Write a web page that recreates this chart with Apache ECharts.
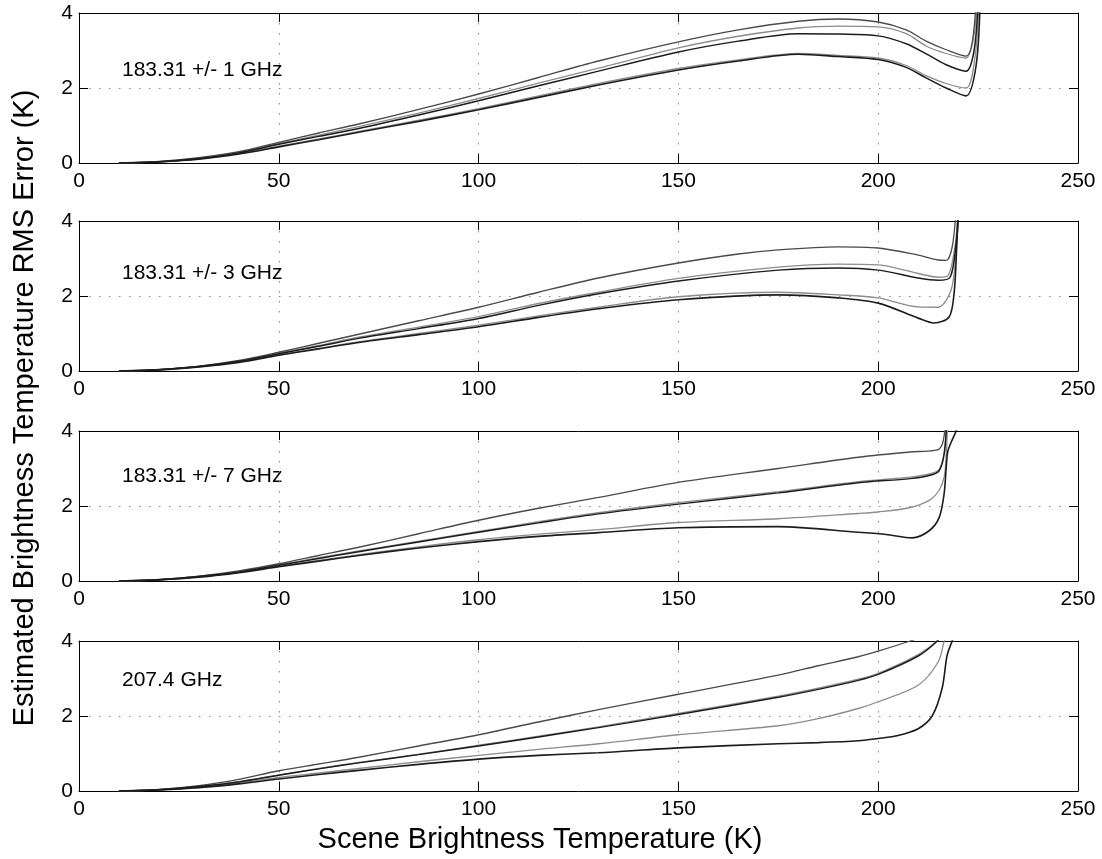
<!DOCTYPE html>
<html>
<head>
<meta charset="utf-8">
<script src="https://cdn.jsdelivr.net/npm/echarts@6/dist/echarts.min.js"></script>
<style>
html,body{margin:0;padding:0;background:#fff;}
#chart{width:1102px;height:859px;}
</style>
</head>
<body>
<div id="chart"></div>
<script>
// ---- Data ----
const xTicks = [0, 50, 100, 150, 200, 250];
const yTicks = [0, 2, 4];
const panelLabels = ['183.31 +/- 1 GHz', '183.31 +/- 3 GHz', '183.31 +/- 7 GHz', '207.4 GHz'];
const xTitle = 'Scene Brightness Temperature (K)';
const yTitle = 'Estimated Brightness Temperature RMS Error (K)';

// Panel 1: 183.31 +/- 1 GHz
const p1A = [[10,0],[20,0.04],[30,0.14],[40,0.3],[50,0.55],[60,0.8],[70,1.04],[85,1.43],[100,1.84],[115,2.28],[130,2.72],[150,3.23],[165,3.55],[180,3.78],[190,3.84],[200,3.76],[207,3.55],[212,3.25],[217,3.02],[222,2.85],[223.5,3.2],[224.5,4.3]];
const p1B = [[10,0],[20,0.035],[30,0.13],[40,0.28],[50,0.52],[60,0.74],[70,0.97],[85,1.33],[100,1.72],[115,2.13],[130,2.53],[150,3.07],[165,3.38],[180,3.6],[190,3.65],[200,3.63],[207,3.45],[212,3.12],[217,2.92],[222,2.8],[223.8,3.3],[224.8,4.3]];
const p1C = [[10,0],[20,0.03],[30,0.12],[40,0.27],[50,0.5],[60,0.71],[70,0.92],[85,1.28],[100,1.66],[115,2.06],[130,2.45],[150,2.96],[165,3.25],[180,3.45],[190,3.44],[200,3.39],[207,3.18],[212,2.91],[217,2.62],[222,2.45],[224,3.0],[225,4.3]];
const p1D = [[10,0],[20,0.03],[30,0.11],[40,0.25],[50,0.45],[60,0.64],[70,0.84],[85,1.14],[100,1.45],[115,1.79],[130,2.12],[150,2.52],[165,2.75],[180,2.92],[190,2.87],[200,2.8],[207,2.6],[212,2.33],[217,2.12],[222,2.0],[224.2,2.8],[225.2,4.3]];
const p1E = [[10,0],[20,0.03],[30,0.1],[40,0.24],[50,0.43],[60,0.62],[70,0.82],[85,1.11],[100,1.42],[115,1.75],[130,2.08],[150,2.48],[165,2.72],[180,2.9],[190,2.84],[200,2.76],[207,2.55],[212,2.27],[217,2.0],[222,1.79],[224.5,2.6],[225.5,4.3]];

// Panel 2: 183.31 +/- 3 GHz
const p2A = [[10,0],[20,0.04],[30,0.13],[40,0.28],[50,0.5],[60,0.74],[70,0.98],[85,1.34],[100,1.7],[115,2.1],[130,2.48],[150,2.88],[165,3.12],[175,3.23],[190,3.31],[200,3.28],[210,3.09],[215,2.96],[217,2.95],[218.5,3.3],[219.5,4.3]];
const p2B = [[10,0],[20,0.035],[30,0.12],[40,0.26],[50,0.47],[60,0.68],[70,0.9],[85,1.17],[100,1.45],[115,1.8],[130,2.1],[150,2.47],[175,2.77],[190,2.85],[200,2.83],[210,2.6],[215,2.5],[217.5,2.55],[219.3,3.4],[220,4.3]];
const p2C = [[10,0],[20,0.035],[30,0.12],[40,0.26],[50,0.46],[60,0.66],[70,0.87],[85,1.13],[100,1.4],[115,1.75],[130,2.06],[150,2.4],[175,2.69],[190,2.75],[200,2.69],[210,2.48],[215,2.42],[218,2.5],[219.5,3.4],[220.2,4.3]];
const p2D = [[10,0],[20,0.03],[30,0.11],[40,0.24],[50,0.43],[60,0.6],[70,0.78],[85,1.0],[100,1.22],[115,1.47],[130,1.7],[150,1.98],[175,2.1],[190,2.03],[200,1.95],[210,1.71],[215,1.7],[218.25,2.16],[219.5,3.2],[220.2,4.3]];
const p2E = [[10,0],[20,0.03],[30,0.11],[40,0.23],[50,0.42],[60,0.59],[70,0.76],[85,0.97],[100,1.18],[115,1.43],[130,1.66],[150,1.9],[175,2.03],[190,1.95],[200,1.81],[210,1.41],[214,1.28],[217.75,1.44],[219,2.08],[219.6,3.2],[220,4.3]];

// Panel 3: 183.31 +/- 7 GHz
const p3A = [[10,0],[20,0.04],[30,0.13],[40,0.27],[50,0.46],[60,0.68],[70,0.9],[85,1.26],[100,1.62],[115,1.94],[130,2.23],[150,2.63],[175,3.0],[195,3.3],[208,3.44],[213,3.47],[215.25,3.52],[216.3,3.75],[216.9,4.3]];
const p3B = [[10,0],[20,0.035],[30,0.12],[40,0.25],[50,0.43],[60,0.62],[70,0.8],[85,1.06],[100,1.32],[115,1.58],[130,1.82],[150,2.09],[175,2.38],[195,2.65],[208,2.77],[213,2.86],[215.25,2.98],[216.5,3.42],[217.2,4.3]];
const p3C = [[10,0],[20,0.035],[30,0.12],[40,0.24],[50,0.42],[60,0.6],[70,0.78],[85,1.04],[100,1.3],[115,1.55],[130,1.79],[150,2.05],[175,2.35],[195,2.62],[208,2.73],[213,2.82],[215.25,2.94],[216.5,3.38],[217.2,4.3]];
const p3D = [[10,0],[20,0.03],[30,0.11],[40,0.23],[50,0.4],[60,0.55],[70,0.7],[85,0.91],[100,1.1],[115,1.25],[130,1.37],[150,1.56],[175,1.66],[195,1.8],[200,1.84],[208,1.96],[212.75,2.15],[215.25,2.42],[216.5,2.77],[217,3.3],[217.4,4.3]];
const p3E = [[10,0],[20,0.03],[30,0.1],[40,0.22],[50,0.38],[60,0.53],[70,0.68],[85,0.88],[100,1.05],[115,1.19],[130,1.29],[150,1.42],[175,1.45],[195,1.3],[202,1.24],[208.5,1.15],[212.75,1.34],[215.25,1.69],[216.5,2.33],[217,3.0],[217.4,3.45],[218.25,3.7],[219.5,4.0],[220.2,4.3]];

// Panel 4: 207.4 GHz
const p4A = [[10,0],[20,0.04],[30,0.14],[40,0.31],[50,0.54],[60,0.72],[70,0.9],[85,1.2],[100,1.5],[115,1.84],[130,2.17],[150,2.58],[175,3.09],[185,3.34],[195,3.58],[200,3.73],[208,4.0],[212,4.15]];
const p4B = [[10,0],[20,0.035],[30,0.12],[40,0.25],[50,0.43],[60,0.6],[70,0.76],[85,0.98],[100,1.22],[115,1.46],[130,1.71],[150,2.07],[175,2.53],[185,2.74],[195,2.98],[200,3.14],[210,3.64],[214.7,4.0],[216,4.2]];
const p4C = [[10,0],[20,0.035],[30,0.12],[40,0.24],[50,0.42],[60,0.59],[70,0.75],[85,0.97],[100,1.2],[115,1.44],[130,1.69],[150,2.04],[175,2.5],[185,2.71],[195,2.95],[200,3.11],[210,3.6],[214.8,4.0],[216,4.2]];
const p4D = [[10,0],[20,0.03],[30,0.1],[40,0.21],[50,0.36],[60,0.48],[70,0.6],[85,0.78],[100,0.95],[115,1.11],[130,1.26],[150,1.5],[175,1.74],[185,1.93],[195,2.2],[200,2.38],[210,2.82],[215,3.44],[216.5,4.0],[217,4.2]];
const p4E = [[10,0],[20,0.03],[30,0.09],[40,0.19],[50,0.32],[60,0.44],[70,0.55],[85,0.71],[100,0.85],[115,0.95],[130,1.02],[150,1.15],[175,1.26],[185,1.29],[195,1.34],[200,1.4],[205,1.48],[210,1.66],[213.5,2.0],[216,2.74],[217.25,3.62],[218.5,4.0],[219,4.2]];

const panels = [
  [p1A, p1B, p1C, p1D, p1E],
  [p2A, p2B, p2C, p2D, p2E],
  [p3A, p3B, p3C, p3D, p3E],
  [p4A, p4B, p4C, p4D, p4E]
];

// ---- Styles / layout ----
const FONT = 'Liberation Sans, Arial, Helvetica, sans-serif';
const curveColors = ['#4a4a4a', '#8c8c8c', '#1c1c1c', '#8c8c8c', '#1c1c1c'];
const curveWidths = [1.3, 1.3, 1.5, 1.3, 1.6];
const gridTops = [13, 221, 431, 641];
const gridH = 150;
const labelY = [70, 273, 476, 680];

const grids = [], xAxes = [], yAxes = [], series = [], graphics = [];
gridTops.forEach((top, i) => {
  grids.push({left: 79, width: 999, top: top, height: gridH, show: false, containLabel: false});
  const baseX = {
    gridIndex: i, type: 'value', min: xTicks[0], max: xTicks[xTicks.length - 1], interval: 50,
    axisLine: {show: true, onZero: false, lineStyle: {color: '#000', width: 1}},
    axisTick: {show: true, inside: true, length: 9, lineStyle: {color: '#000', width: 1}}
  };
  xAxes.push(Object.assign({}, baseX, {
    position: 'bottom',
    axisLabel: {show: true, color: '#000', fontSize: 21, fontFamily: FONT, margin: 8},
    splitLine: {show: true, lineStyle: {color: '#8a8a8a', width: 1, type: [1.5, 8.5]}}
  }));
  xAxes.push(Object.assign({}, baseX, {
    position: 'top', axisLabel: {show: false}, splitLine: {show: false}
  }));
  const baseY = {
    gridIndex: i, type: 'value', min: yTicks[0], max: yTicks[yTicks.length - 1], interval: 2,
    axisLine: {show: true, onZero: false, lineStyle: {color: '#000', width: 1}},
    axisTick: {show: true, inside: true, length: 9, lineStyle: {color: '#000', width: 1}}
  };
  yAxes.push(Object.assign({}, baseY, {
    position: 'left',
    axisLabel: {show: true, color: '#000', fontSize: 21, fontFamily: FONT, margin: 6},
    splitLine: {show: true, lineStyle: {color: '#8a8a8a', width: 1, type: [1.5, 8.5]}}
  }));
  yAxes.push(Object.assign({}, baseY, {
    position: 'right', axisLabel: {show: false}, splitLine: {show: false}
  }));
  panels[i].forEach((curve, k) => {
    series.push({
      type: 'line', xAxisIndex: 2 * i, yAxisIndex: 2 * i, data: curve,
      showSymbol: false, symbol: 'none', smooth: 0.3, clip: true,
      lineStyle: {color: curveColors[k], width: curveWidths[k]},
      silent: true, animation: false, z: 3 + (k % 2 === 0 ? 1 : 0)
    });
  });
  graphics.push({
    type: 'text', x: 122, y: labelY[i],
    style: {text: panelLabels[i], fontSize: 21, fontFamily: FONT, fill: '#000', textAlign: 'left', textVerticalAlign: 'middle'}
  });
});

graphics.push({
  type: 'text', x: 540, y: 840,
  style: {text: xTitle, fontSize: 29, fontFamily: FONT, fill: '#000', textAlign: 'center', textVerticalAlign: 'middle'}
});
graphics.push({
  type: 'text', x: 25, y: 408, rotation: Math.PI / 2,
  style: {text: yTitle, fontSize: 29, fontFamily: FONT, fill: '#000', textAlign: 'center', textVerticalAlign: 'middle'}
});

const chart = echarts.init(document.getElementById('chart'), null, {renderer: 'canvas'});
chart.setOption({
  backgroundColor: '#fff',
  animation: false,
  grid: grids,
  xAxis: xAxes,
  yAxis: yAxes,
  series: series,
  graphic: graphics
});
</script>
</body>
</html>
